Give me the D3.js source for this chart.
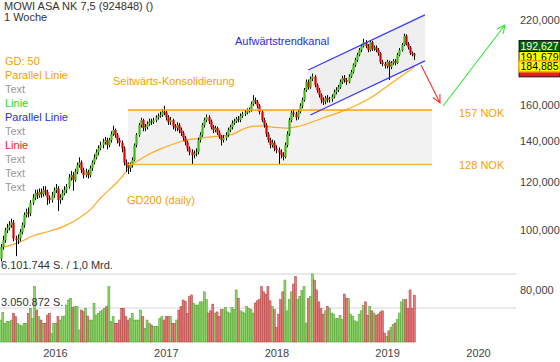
<!DOCTYPE html>
<html>
<head>
<meta charset="utf-8">
<script src="https://cdnjs.cloudflare.com/ajax/libs/d3/7.8.5/d3.min.js"></script>
<style>
body { margin: 0; background: #fff; }
svg text { font-family: "Liberation Sans", Arial, sans-serif; font-size: 11px; }
</style>
</head>
<body>
<div id="canvas"></div>
<script>
// weekly candles, first week starts 2015-07-06
const firstWeek = new Date(2015, 6, 6);
const firstOpen = 90;

const closes = [94,96.4,100,101,102,103,97,96.4,97,99.4,
  102,106,107,106.5,111,113,115,114,115.5,114.6,
  116.3,115.5,113,112,114,116.3,117,112,113,115,
  116.3,117.7,122,123,120.8,124.6,127.8,129,125.4,123,
  124.6,123,126.3,129,131.4,134,136,137.7,139.2,140.3,
  137.7,140.3,143.5,145.7,143,140.3,138.8,136,129,127.8,
  126.3,127.8,130.2,137.7,143,148.4,151.2,146.7,147.3,149,
  150.5,150,151,152.8,153.5,154.1,156,155.5,152.8,150,
  151.2,147.8,146.7,148.4,145.7,144,141.4,139.2,136,134,
  132.6,133.5,134,140.3,143,148.4,151.2,153,150.5,147.3,
  145.7,146.7,144.3,142.2,140.3,141.4,143,145.7,147.3,149.5,
  150.5,151.8,151.2,153.5,154.6,155.5,156.7,157,160.6,163,
  162,159.5,156,151.2,148.4,143.5,140.3,137.7,138.8,136,
  135.1,134,132.6,131.7,137.7,143.5,151.2,155.5,154.6,152.8,
  156,159.5,163,169.2,174.5,171,176.5,178,172.4,169.2,
  166.1,163,162,164.3,163,163.6,165,168,169.2,171,
  174.5,177,175.7,174.5,178,181,185.9,189.4,193,196.6,
  199.5,202.5,199.5,196.6,202.5,197.6,198.5,196.6,194.2,188,
  186.6,185.2,188,184.5,187.3,188.6,187.3,193,196.6,200.3,
  207.4,201,198.5,194.4,193.6,192.6];

const highs = [95,98,101,102.5,103.5,104.5,104,98,98.5,100.5,
  103,107,108.5,109,112,114.5,116.5,116.5,117,117,
  118,118,116.5,114,115.5,117.5,119,118,114.5,116.5,
  118,119,123.5,125,124.5,126,129,131.5,130,126.5,
  126,125.5,127.5,130,133,135.5,137.5,139.5,141,142,
  141.5,141.5,145,148,146.5,144,141.5,140,137,130.5,
  129,129,131.5,138.5,144,149.5,152.5,152,149,150.5,
  152,152,152.5,154,155,156,157.5,159.5,156.5,154,
  153,152,149,150,149.5,147,145,142.5,140,137,
  135.5,135,136,141.5,144.5,149.5,152.5,154.5,154,151.5,
  148.5,148,147.5,145.5,143,143,144.5,147,148.5,151,
  152,153,153.5,155,156,157,158,158.5,162,166,
  164.5,163,160.5,157,152.5,149.5,144.5,141.5,140.5,140,
  137.5,136.5,135.5,134,139,145,152.5,157,157.5,156,
  157.5,161,164.5,170.5,176,176,178,180,179,173.5,
  170.5,167,164.5,165.5,166,165,166.5,169.5,171,172.5,
  176,178.5,179,177,179.5,182.5,187,191,194.5,198,
  201,205,204,201,204,203.5,200,200,198,195,
  189.5,188,189.5,189,188.5,190,190,194.5,198,202,
  209,208.5,202.5,199.5,195.5,194.5];

const lows = [89,93,95.5,99,100,101,96,90.8,95,96,
  98.5,101,105,105,105.5,110,112,112.5,113,113,
  113.5,114,110,110.5,111,113,115,107.5,110.5,112,
  114,115,117,120.5,116,120,123.5,126.5,124,121.5,
  122,121.5,122,125,128,130.5,132.5,135,136,138,
  135.5,136.5,139,142.5,141.5,138.5,137,134,127.5,124.5,
  123.5,124.5,126.5,129.5,136.5,142,147,145,145,146,
  148,148.5,149,150,151.5,152.5,153,154,151,148.5,
  148.5,146,145,145,144,142.5,140,137.5,134.5,132.5,
  128,131,132,133,139,142,147,150,149,146,
  144,144.5,143,141,137.5,139,140,142,144.5,146,
  148.5,149.5,150,150,152.5,153.5,154.5,155.5,156,159.5,
  160.5,158,154.5,150,147,142,139,136,136.5,134.5,
  133.5,128,131,130,131,136.5,142.5,150,153,151,
  151.5,155,158,162,168,169.5,170,175,171,167.5,
  164.5,161,160,160.5,161.5,161.5,162,164,166.5,168,
  170,173,174,172.5,173.5,177,180,184.5,188,192,
  195,198.5,198,195,195.5,196,196,195,192.5,186.5,
  185,183.5,183.5,175.7,183,186,185.5,186.5,192,195.5,
  199.5,200,197,193,192,189.4];

// weekly volume in millions of shares
const volumes = [1.97,2.63,1.68,1.82,1.82,1.97,2.57,2.27,1.68,1.53,
  1.44,1.68,1.68,2.57,3.02,2.12,4.96,2.87,2.27,1.97,
  1.68,1.68,2.42,2.57,0.78,1.68,1.68,2.27,1.97,2.27,
  2.33,3.32,3.77,3.92,3.11,3.17,3.17,1.08,2.87,2.72,
  3.02,2.33,1.97,1.97,3.47,2.42,2.57,2.72,2.87,3.02,
  3.17,4.96,1.82,2.27,1.68,1.68,1.97,3.02,3.02,2.27,
  1.97,2.12,2.57,1.97,1.97,1.97,2.87,2.27,1.23,1.97,
  1.68,1.53,1.38,1.38,1.38,2.12,2.27,1.97,2.27,2.27,
  2.27,1.68,1.68,1.97,2.87,3.17,3.77,3.62,2.57,4.07,
  4.22,3.47,3.32,3.32,3.6,3.6,4.5,3.8,2.6,2.8,
  3.4,2.6,2.7,2.3,2.9,2.9,3.1,2.7,2.6,3.1,
  2.9,4.67,3.94,2.8,2.7,2.6,3.2,3.0,2.9,2.6,
  3.5,3.7,3.8,4.96,4.5,4.3,4.96,3.7,3.2,2.9,
  1.3,2.5,3.8,4.5,5.56,2.8,3.8,4.5,5.2,5.86,
  3.8,4.1,4.6,4.96,1.7,3.9,4.1,6.1,5.56,4.67,
  3.6,3.0,2.5,2.8,3.2,3.0,2.6,2.5,2.1,2.1,
  2.4,2.0,4.3,3.9,3.9,2.5,2.3,1.9,1.8,2.5,
  2.8,3.3,3.6,2.4,3.2,2.8,2.6,2.4,2.5,2.7,
  2.8,0.8,0.5,1.0,1.3,1.6,1.7,2.0,2.6,3.6,
  3.8,3.8,3.0,4.67,3.0,4.2];
const volumeMax = 6101744;

// GD200: week index -> value
const gdWeeks = [0,9,15,23,31,37,42,47,55,62,70,77,86,94,102,109,117,123,128,135,141,152,160,168,175,183,191,195];
const gdValues = [93.6,95.7,97.9,99.7,102,104.8,107.9,112.8,119.9,127.8,133.1,136.4,139.8,141.3,142.2,143.3,147.3,147.9,147.3,146.7,147.9,152.4,155.8,160,164.8,172.4,180.4,184.5];

const priceTicks = [100, 120, 140, 160, 220];
const yearTicks = [2016, 2017, 2018, 2019, 2020];

// price tags at the right edge, bottom one sits on its value
const tags = [
  { value: 184.885, fill: "#ffff00", stroke: "#ffa500", color: "#000" },
  { value: 191.679, fill: "#ffff00", stroke: "#000", color: "#000" },
  { value: 192.627, fill: "#006400", stroke: "#000", color: "#fff" }
];

// annotations (date, price)
const band = { from: new Date(2016, 7, 29), to: new Date(2019, 5, 16), top: 157, bottom: 128 };
const channelUpper = [[new Date(2018, 3, 16), 182.4], [new Date(2019, 4, 17), 224.2]];
const channelLower = [[new Date(2018, 3, 23), 154.1], [new Date(2019, 4, 17), 188.7]];
const redArrow = [[new Date(2019, 3, 30), 185.9], [new Date(2019, 6, 21), 161.2]];
const greenArrow = [[new Date(2019, 7, 3), 159.4], [new Date(2020, 3, 27), 215.9]];

const legend = [
  ["GD: 50", "#f5a000"], ["Parallel Linie", "#f5a000"], ["Text", "#999"],
  ["Linie", "#22dd22"], ["Parallel Linie", "#2a2ae8"], ["Text", "#999"],
  ["Linie", "#ee2020"], ["Text", "#999"], ["Text", "#999"], ["Text", "#999"]
];

const width = 560, height = 362;
const plotRight = 516;

const svg = d3.select("#canvas").append("svg")
  .attr("width", width).attr("height", height);

const x = d3.scaleTime()
  .domain([firstWeek, new Date(2019, 3, 1), new Date(2020, 0, 1), new Date(2020, 5, 14)])
  .range([0.7, 414.3, 478, plotRight]);
const y = d3.scaleLog().domain([100, 220]).range([230.4, 20]);
const yv = d3.scaleLinear().domain([0, volumeMax]).range([342, 274]);

const data = closes.map((c, i) => ({
  date: d3.timeDay.offset(firstWeek, 7 * i),
  open: i ? closes[i - 1] : firstOpen,
  close: c, high: highs[i], low: lows[i],
  vol: volumes[i] * 1e6
}));

// sideways band
svg.append("rect")
  .attr("x", x(band.from)).attr("width", x(band.to) - x(band.from))
  .attr("y", y(band.top)).attr("height", y(band.bottom) - y(band.top))
  .attr("fill", "#f2f2f2");

// channel fill
const chPoly = [channelUpper[0], channelUpper[1], channelLower[1], channelLower[0]]
  .map(p => [x(p[0]), y(p[1])]);
svg.append("polygon").attr("points", chPoly.join(" ")).attr("fill", "#efefef");

// volume grid
svg.append("line").attr("x1", 0).attr("x2", plotRight)
  .attr("y1", yv(volumeMax)).attr("y2", yv(volumeMax))
  .attr("stroke", "#e2e2e2").attr("stroke-width", 1.5);
svg.append("line").attr("x1", 0).attr("x2", plotRight)
  .attr("y1", yv(volumeMax / 2)).attr("y2", yv(volumeMax / 2))
  .attr("stroke", "#d6d6de");

// volume bars
const volColor = d => d.close > d.open ? ["#8fd46c", "#4c9a2a"] : d.close < d.open ? ["#e47c7c", "#b03a3a"] : ["#c8c8c8", "#888"];
svg.append("g").selectAll("rect").data(data).enter().append("rect")
  .attr("x", d => x(d.date) - 1)
  .attr("y", d => yv(d.vol))
  .attr("width", 2)
  .attr("height", d => yv(0) - yv(d.vol))
  .attr("fill", d => volColor(d)[0])
  .attr("stroke", d => volColor(d)[1])
  .attr("stroke-width", 0.5);

// GD200
svg.append("path")
  .datum(gdWeeks.map((w, i) => [d3.timeDay.offset(firstWeek, 7 * w), gdValues[i]]))
  .attr("fill", "none").attr("stroke", "#ffaa22").attr("stroke-width", 1.2)
  .attr("d", d3.line().x(d => x(d[0])).y(d => y(d[1])).curve(d3.curveMonotoneX));

// candles
const cg = svg.append("g");
cg.selectAll("line").data(data).enter().append("line")
  .attr("x1", d => Math.round(x(d.date)) + 0.5).attr("x2", d => Math.round(x(d.date)) + 0.5)
  .attr("y1", d => y(d.high)).attr("y2", d => y(d.low))
  .attr("stroke", "#000").attr("stroke-width", 1);
cg.selectAll("rect").data(data).enter().append("rect")
  .attr("x", d => Math.round(x(d.date)) - 0.6)
  .attr("width", 2.2)
  .attr("y", d => y(Math.max(d.open, d.close)))
  .attr("height", d => Math.max(1, Math.abs(y(d.open) - y(d.close))))
  .attr("fill", d => d.close >= d.open ? "#3fb80f" : "#dd0000");

// band lines
[band.top, band.bottom].forEach((v, i) => {
  svg.append("line")
    .attr("x1", x(band.from)).attr("x2", x(band.to))
    .attr("y1", y(v)).attr("y2", y(v))
    .attr("stroke", i ? "#ffb347" : "#ffa000").attr("stroke-width", 1.6);
});

// channel lines
[channelUpper, channelLower].forEach(l => {
  svg.append("line")
    .attr("x1", x(l[0][0])).attr("y1", y(l[0][1]))
    .attr("x2", x(l[1][0])).attr("y2", y(l[1][1]))
    .attr("stroke", "#3a3aff").attr("stroke-width", 1.3);
});

// arrows
function arrow(pts, color) {
  const x0 = x(pts[0][0]), y0 = y(pts[0][1]), x1 = x(pts[1][0]), y1 = y(pts[1][1]);
  const a = Math.atan2(y1 - y0, x1 - x0), len = 9, spread = 0.45;
  const path = d3.path();
  path.moveTo(x0, y0); path.lineTo(x1, y1);
  path.moveTo(x1 - len * Math.cos(a - spread), y1 - len * Math.sin(a - spread));
  path.lineTo(x1, y1);
  path.lineTo(x1 - len * Math.cos(a + spread), y1 - len * Math.sin(a + spread));
  svg.append("path").attr("d", path.toString())
    .attr("fill", "none").attr("stroke", color).attr("stroke-width", 1.1);
}
arrow(redArrow, "#ff3030");
arrow(greenArrow, "#33e633");

// price axis (right)
svg.append("g")
  .attr("transform", `translate(${plotRight},0)`)
  .call(d3.axisRight(y).tickValues(priceTicks).tickSize(0).tickPadding(4)
    .tickFormat(d => d3.format(".3f")(d).replace(".", ",")))
  .call(g => g.select(".domain").remove())
  .selectAll("text").attr("fill", "#444").style("font-size", "11px");

// year axis
svg.append("g")
  .attr("transform", `translate(0,${yv(0)})`)
  .call(d3.axisBottom(x).tickValues(yearTicks.map(yr => new Date(yr, 0, 1)))
    .tickSize(0).tickPadding(7).tickFormat(d3.timeFormat("%Y")))
  .call(g => g.select(".domain").remove())
  .selectAll("text").attr("fill", "#444").style("font-size", "11px");

// price tags
const tagH = 11;
const tagW = 41;
let tagBottom = y(tags[0].value) + tagH / 2;
svg.append("rect").attr("x", 519).attr("y", tagBottom - 5).attr("width", tagW).attr("height", 10)
  .attr("fill", "#dd2222").attr("stroke", "#000").attr("stroke-width", 0.8);
const tagPos = tags.map((t, i) => tagBottom - tagH * (i + 1) + (i ? 1.5 : 0));
[1, 0, 2].forEach(i => {
  const t = tags[i];
  svg.append("rect").attr("x", 519).attr("y", tagPos[i]).attr("width", tagW).attr("height", tagH)
    .attr("fill", t.fill).attr("stroke", t.stroke).attr("stroke-width", i === 0 ? 1.4 : 0.8);
  svg.append("text").attr("x", 519 + tagW / 2).attr("y", tagPos[i] + tagH - 1.8)
    .attr("text-anchor", "middle").attr("textLength", 38).attr("lengthAdjust", "spacingAndGlyphs")
    .attr("fill", t.color).style("font-size", "11px")
    .text(d3.format(".3f")(t.value).replace(".", ","));
});

// texts
const txt = (s, tx, ty, color, size) => svg.append("text").attr("x", tx).attr("y", ty)
  .attr("fill", color).style("font-size", (size || 11) + "px").text(s);

txt("MOWI ASA NK 7,5 (924848) ()", 4, 10, "#333");
txt("1 Woche", 4, 20.5, "#333");
legend.forEach((l, i) => txt(l[0], 5, 65 + i * 14, l[1]));
txt("Seitwärts-Konsolidierung", 113, 85, "#f5a000");
txt("GD200 (daily)", 127, 204, "#f5a000");
txt("Aufwärtstrendkanal", 235, 45, "#2a2ae8");
txt("157 NOK", 459, y(band.top) + 7, "#f5a000");
txt("128 NOK", 459, y(band.bottom) + 4, "#f5a000");
txt("6.101.744 S. / 1,0 Mrd.", 1, 269, "#333");
txt("3.050.872 S.", 1, 306, "#333");
txt("80,000", 520, 294, "#444");
</script>
</body>
</html>
